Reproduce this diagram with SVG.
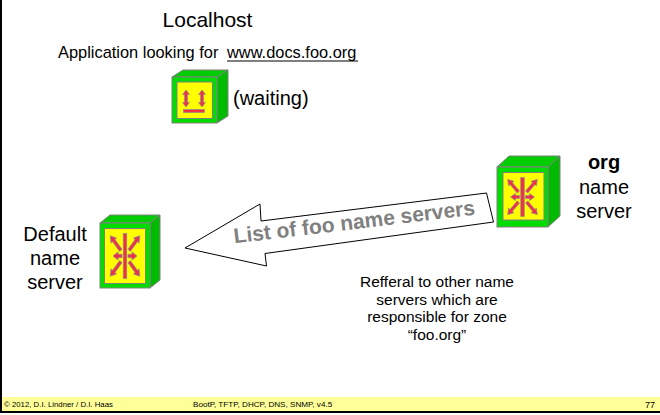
<svg xmlns="http://www.w3.org/2000/svg" xmlns:xlink="http://www.w3.org/1999/xlink" width="660" height="415" viewBox="0 0 660 415">
<style>
.t{font-family:"Liberation Sans",Arial,sans-serif;fill:#000}
.front{fill:#00DD00;stroke:#808080;stroke-width:1}
.top{fill:#00CC00;stroke:#808080;stroke-width:1}
.side{fill:#00BB00;stroke:#808080;stroke-width:1}
.screen{fill:#FFFF00;stroke:#808080;stroke-width:1}
.red{fill:#F0304A;stroke:#8C8C8C;stroke-width:0.7}
</style>
<defs>
<polygon id="ah" class="red" points="5,-1.5 9,-1.5 9,-3.5 14,0 9,3.5 9,1.5 5,1.5"/>
<polygon id="ad" class="red" points="6.5,-1.5 17.5,-1.5 17.5,-3.5 23,0 17.5,3.5 17.5,1.5 6.5,1.5"/>
<g id="burst">
<use xlink:href="#ah" transform="translate(-2,0)"/>
<use xlink:href="#ah" transform="translate(2,0) rotate(180)"/>
<use xlink:href="#ad" transform="rotate(-130)"/>
<use xlink:href="#ad" transform="rotate(-50)"/>
<use xlink:href="#ad" transform="rotate(50)"/>
<use xlink:href="#ad" transform="rotate(130)"/>
<rect class="red" x="-1.75" y="-19.5" width="3.5" height="39"/>
</g>
</defs>
<rect x="2" y="397" width="658" height="14" fill="#FFFF99"/>
<line x1="1" y1="0" x2="1" y2="413" stroke="#000" stroke-width="2"/>
<line x1="0" y1="412" x2="660" y2="412" stroke="#000" stroke-width="2"/>

<g id="connectors">
<polygon points="185,248 260,204 261,221 486.5,193 493.5,222 265,253.5 266.5,266" fill="#FFFFFF" stroke="#000" stroke-width="1"/>
<text class="t" x="355" y="229" text-anchor="middle" font-size="21" font-weight="bold" style="fill:#808080" transform="rotate(-6.8 355 229)">List of foo name servers</text>
</g>

<g id="localhost">
<text class="t" x="207.5" y="27" text-anchor="middle" font-size="21">Localhost</text>
<text class="t" x="58" y="57.5" font-size="16.4">Application looking for</text>
<text class="t" x="227" y="57.5" font-size="16.4">www.docs.foo.org</text>
<line x1="227" y1="61" x2="358" y2="61" stroke="#000" stroke-width="1.2"/>
<polygon class="top" points="172,77 183,70 228,70 217,77"/>
<polygon class="side" points="217,77 228,70 228,116 217,123"/>
<rect class="front" x="172" y="77" width="45" height="46"/>
<rect class="screen" x="177" y="82" width="35.5" height="36.5"/>
<polygon class="red" points="186,90 189.5,94.5 187.5,94.5 187.5,102.5 189.5,102.5 186,107 182.5,102.5 184.5,102.5 184.5,94.5 182.5,94.5"/>
<polygon class="red" points="202,90 205.5,94.5 203.5,94.5 203.5,102.5 205.5,102.5 202,107 198.5,102.5 200.5,102.5 200.5,94.5 198.5,94.5"/>
<rect class="red" x="183.5" y="109.5" width="21" height="3"/>
<text class="t" x="233" y="105" font-size="20">(waiting)</text>
</g>

<g id="org-server">
<polygon class="top" points="497,167 509,156 560,156 548,167"/>
<polygon class="side" points="548,167 560,156 560,216 548,227"/>
<rect class="front" x="497" y="167" width="51" height="60"/>
<rect class="screen" x="503" y="172.5" width="41" height="47.5"/>
<use xlink:href="#burst" transform="translate(522.5,197)"/>
<text class="t" x="604" y="169" text-anchor="middle" font-size="20" font-weight="bold">org</text>
<text class="t" x="604" y="193.5" text-anchor="middle" font-size="20">name</text>
<text class="t" x="604" y="218" text-anchor="middle" font-size="20">server</text>
</g>

<g id="default-server">
<polygon class="top" points="100,223 110,215 160,215 150,223"/>
<polygon class="side" points="150,223 160,215 160,280 150,288"/>
<rect class="front" x="100" y="223" width="50" height="65"/>
<rect class="screen" x="104.5" y="228.5" width="41" height="55"/>
<use xlink:href="#burst" transform="translate(125,256) scale(1,1.15)"/>
<text class="t" x="55" y="241" text-anchor="middle" font-size="20">Default</text>
<text class="t" x="55" y="265" text-anchor="middle" font-size="20">name</text>
<text class="t" x="55" y="289" text-anchor="middle" font-size="20">server</text>
</g>

<g id="referral-note">
<text class="t" x="437" y="287" text-anchor="middle" font-size="15.5">Refferal to other name</text>
<text class="t" x="437" y="304.5" text-anchor="middle" font-size="15.5">servers which are</text>
<text class="t" x="437" y="322" text-anchor="middle" font-size="15.5">responsible for zone</text>
<text class="t" x="437" y="339.5" text-anchor="middle" font-size="15.5">“foo.org”</text>
</g>

<g id="footer">
<text class="t" x="4" y="407" font-size="7.8">© 2012, D.I. Lindner / D.I. Haas</text>
<text class="t" x="193" y="407" font-size="8.1">BootP, TFTP, DHCP, DNS, SNMP, v4.5</text>
<text class="t" x="655" y="407.5" text-anchor="end" font-size="9">77</text>
</g>
</svg>
